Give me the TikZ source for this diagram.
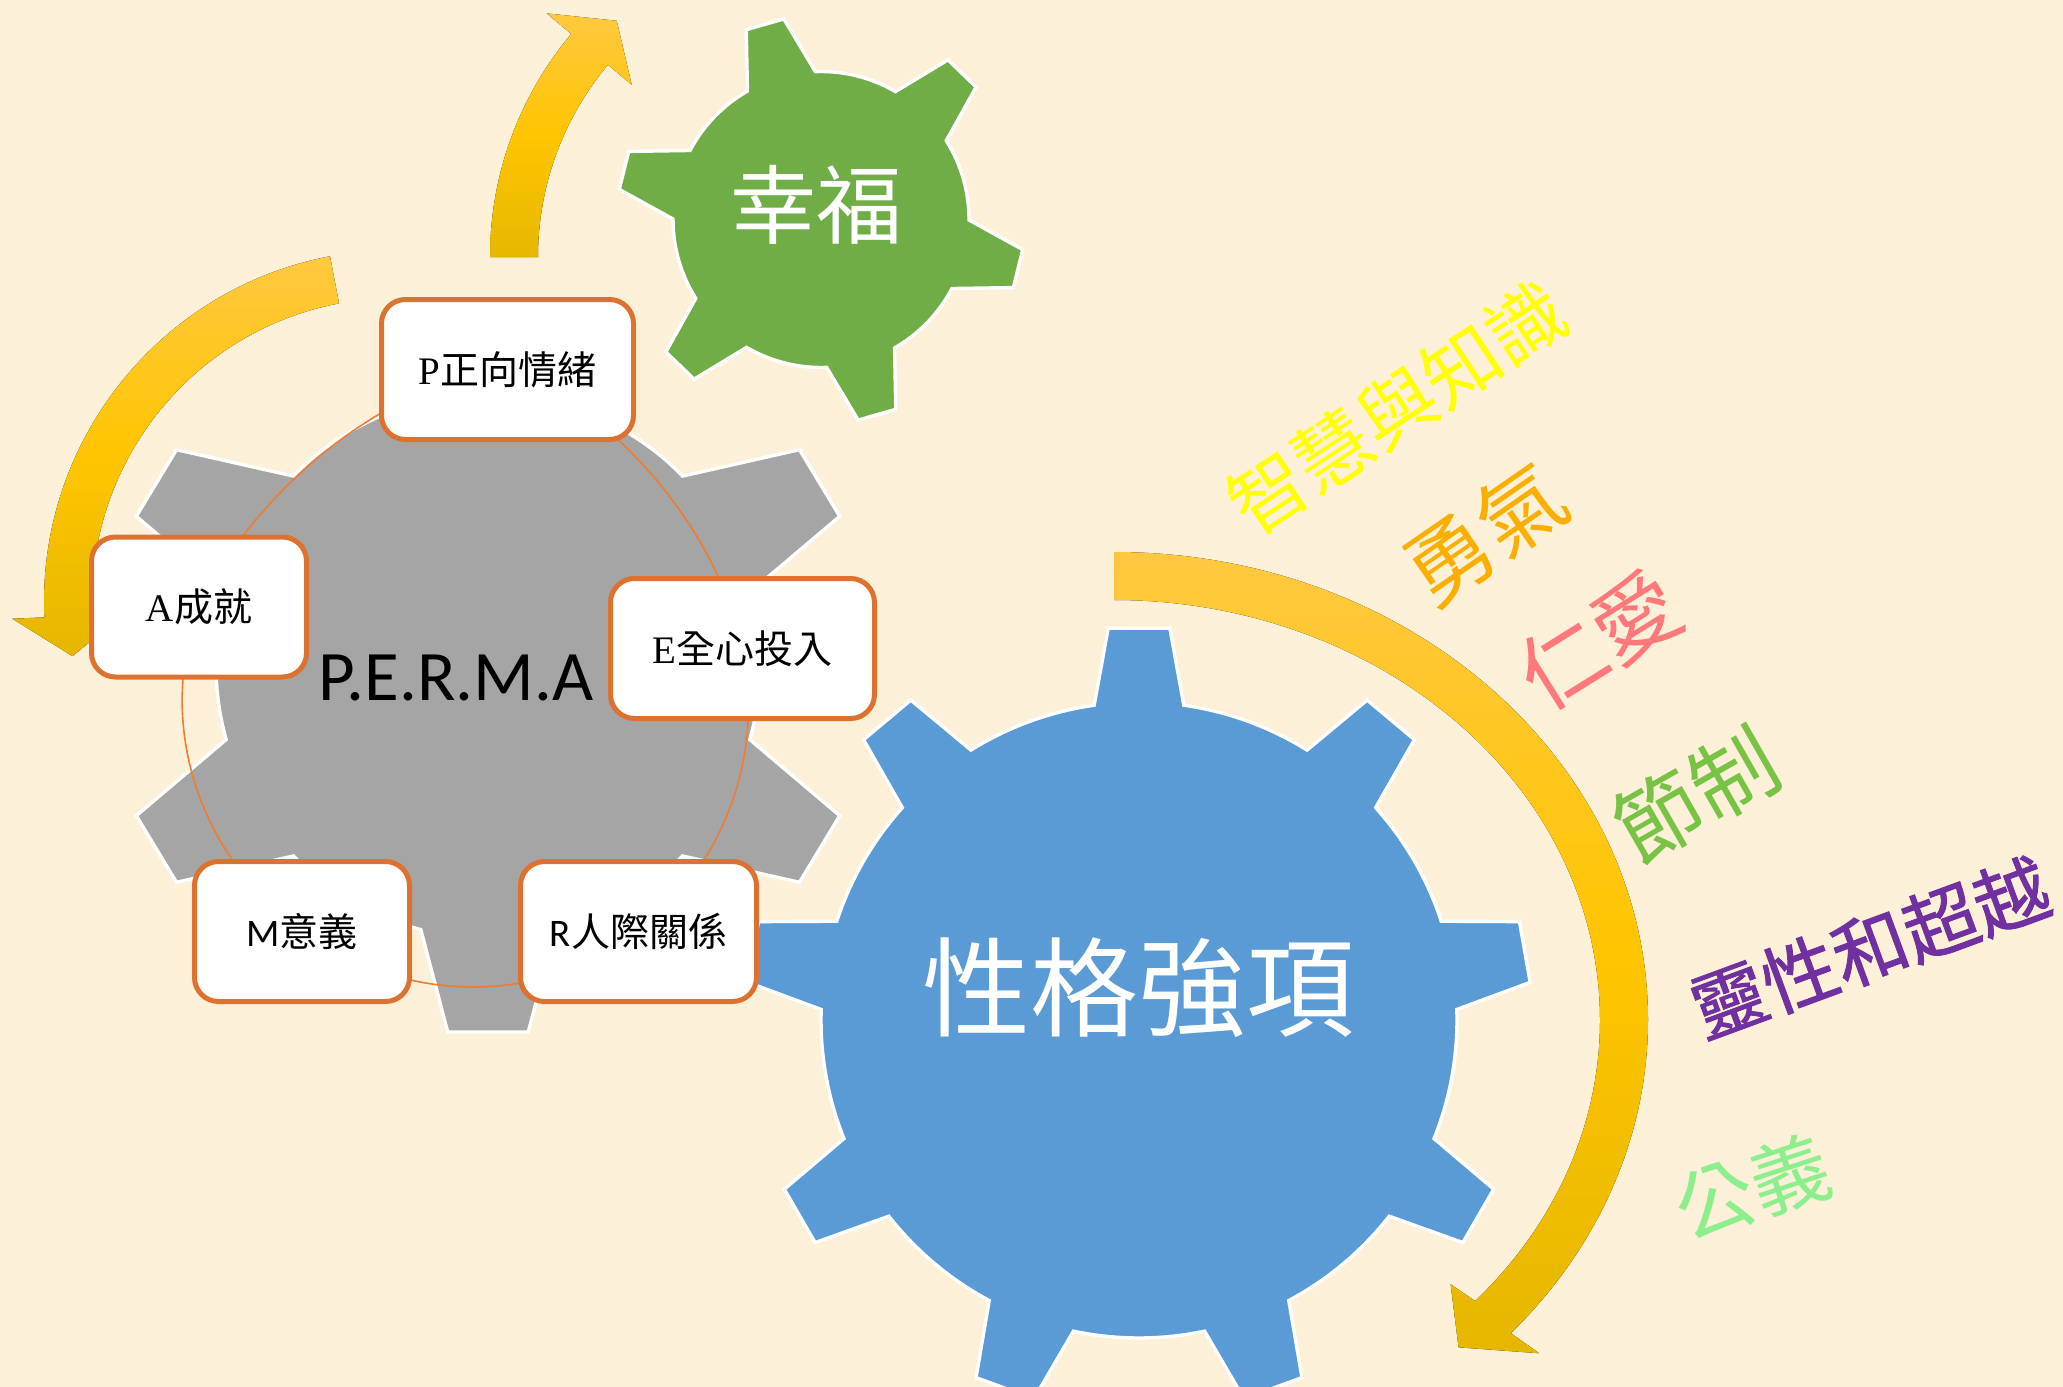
\documentclass[tikz,border=0pt]{standalone}
\usepackage{fontspec}
\setmainfont{Liberation Serif}
\newfontfamily\cjkfont{Noto Sans CJK TC}
\newfontfamily\calibrifont{Carlito}
\definecolor{arrowtop}{RGB}{255,200,64}
\definecolor{arrowmid}{RGB}{255,197,0}
\definecolor{arrowbottom}{RGB}{230,183,0}
\pgfdeclarelayer{boxes}
\pgfsetlayers{main,boxes}

\begin{document}
\begin{tikzpicture}[x=0.5pt,y=0.5pt,yscale=-1,xscale=1,
    gearline/.style={draw=white, line width=1.7pt},
    goldarrow/.style={top color=arrowtop, bottom color=arrowbottom, middle color=arrowmid},
    ring/.style={draw={rgb, 255:red, 237; green, 125; blue, 49 }, line width=0.8pt},
    permabox/.style={draw={rgb, 255:red, 221; green, 114; blue, 48 }, line width=2.5pt, fill=white, rounded corners=12pt, minimum height=70pt, inner sep=0pt, font=\fontsize{19.5}{20}\selectfont},
    gearlabel/.style={text=white, inner sep=0pt},
    virtue/.style={inner sep=0pt}]
\useasboundingbox (0,0) rectangle (2063,1387);

%Shape: Rectangle [paper]
\fill [fill={rgb, 255:red, 252; green, 241; blue, 216 }] (0,0) rectangle (2063,1387);

%Shape: Circular Arrow [top]
\fill [goldarrow, shift={(837,257)}] (180:347) arc[start angle=180, end angle=220, radius=347] -- (220:379) -- (227:323) -- (220:268) -- (220:299) arc[start angle=220, end angle=180, radius=299] -- cycle;
%Shape: Circular Arrow [left]
\fill [goldarrow, shift={(396,602)}] (259.2:352) arc[start angle=259.2, end angle=177.5, radius=352] -- (177.5:384) -- (170.5:328) -- (177.5:272) -- (177.5:304) arc[start angle=177.5, end angle=259.2, radius=304] -- cycle;
%Shape: Circular Arrow [right]
\fill [goldarrow, shift={(1114,1020)}] (-90:534 and 468) arc[start angle=-90, end angle=42, x radius=534, y radius=468] -- (42:572 and 498) -- (47.5:510 and 444) -- (42:453 and 395) -- (42:486 and 420) arc[start angle=42, end angle=-90, x radius=486, y radius=420] -- cycle;

%Shape: Gear 6 [gray]
\draw [gearline, fill={rgb, 255:red, 165; green, 165; blue, 165 }, shift={(488,666)}] (15.7:272)
  \foreach \t in {30,90,...,330} { -- (\t-6:385 and 368) -- (\t+6:385 and 368) -- (\t+14.3:272) arc[start angle=\t+14.3, end angle=\t+45.7, radius=272] } -- cycle;
%Shape: Gear 9 [blue]
\draw [gearline, fill={rgb, 255:red, 91; green, 155; blue, 213 }, shift={(1139,1020)}] (-18.1:318)
  \foreach \t in {-10,30,...,310} { -- (\t-4.5:393) -- (\t+4.5:393) -- (\t+8.1:318) arc[start angle=\t+8.1, end angle=\t+31.9, radius=318] } -- cycle;
%Shape: Gear 6 [green]
\draw [gearline, fill={rgb, 255:red, 112; green, 173; blue, 71 }, shift={(821,219.5)}] (0.2:148)
  \foreach \t in {14,74,...,314} { -- (\t-5.5:204) -- (\t+5.5:204) -- (\t+13.8:148) arc[start angle=\t+13.8, end angle=\t+46.2, radius=148] } -- cycle;

% Text Node
\node [gearlabel, font=\cjkfont\fontsize{43}{43}\selectfont] (happytext) at (816,205) {幸福};
% Text Node
\node [gearlabel, font=\cjkfont\fontsize{54}{54}\selectfont] (strengthtext) at (1138,988) {性格強項};
% Text Node
\node [anchor=base, inner sep=0pt, font=\calibrifont\fontsize{35.5}{36}\selectfont] (permatext) at (456.5,700) {P.E.R.M.A};

% Boxes
\begin{pgfonlayer}{boxes}
\node [permabox, minimum width=126pt] (pbox) at (507.5,369.5) {P{\cjkfont 正向情緒}};
\node [permabox, minimum width=132pt] (ebox) at (742.5,648.5) {E{\cjkfont 全心投入}};
\node [permabox, minimum width=118pt] (rbox) at (638.5,931.5) {{\calibrifont R}{\cjkfont 人際關係}};
\node [permabox, minimum width=107.5pt] (mbox) at (302,931.5) {{\calibrifont M}{\cjkfont 意義}};
\node [permabox, minimum width=107.5pt] (abox) at (199,607) {A{\cjkfont 成就}};
\end{pgfonlayer}

%Curve Lines [ring]
\draw [ring] (abox.center) .. controls +(-44,118) and +(-102,-74) .. (mbox.center);
\draw [ring] (mbox.center) .. controls +(101,72) and +(-99,76) .. (rbox.center);
\draw [ring] (rbox.center) .. controls +(86,-66) and +(22,106) .. (ebox.center);
\draw [ring] (ebox.center) .. controls +(-25,-120) and +(104,37) .. (pbox.center);
\draw [ring] (pbox.center) .. controls +(-129,13) and +(51,-108) .. (abox.center);

% Text Node
\node [virtue, rotate=33.4, text={rgb,255:red,255;green,255;blue,0}, font=\cjkfont\fontsize{38.5}{39}\selectfont] (wisdom) at (1397,408) {智慧與知識};
% Text Node
\node [virtue, rotate=34.7, text={rgb,255:red,250;green,175;blue,0}, font=\cjkfont\fontsize{43}{43}\selectfont] (courage) at (1485,534) {勇氣};
% Text Node
\node [virtue, rotate=32, text={rgb,255:red,255;green,120;blue,122}, font=\cjkfont\fontsize{43}{43}\selectfont] (humanity) at (1599,640) {仁愛};
% Text Node
\node [virtue, rotate=29.7, text={rgb,255:red,120;green,195;blue,70}, font=\cjkfont\fontsize{43}{43}\selectfont] (temperance) at (1696,795) {節制};
% Text Node
\node [virtue, rotate=20.2, text={rgb,255:red,112;green,48;blue,160}, font=\cjkfont\addfontfeature{FakeBold=1.2}\fontsize{37.5}{38}\selectfont] (transcendence) at (1870,948) {靈性和超越};
% Text Node
\node [virtue, rotate=18, text={rgb,255:red,140;green,238;blue,140}, font=\cjkfont\fontsize{39.5}{40}\selectfont] (justice) at (1752,1187) {公義};

\end{tikzpicture}
\end{document}
